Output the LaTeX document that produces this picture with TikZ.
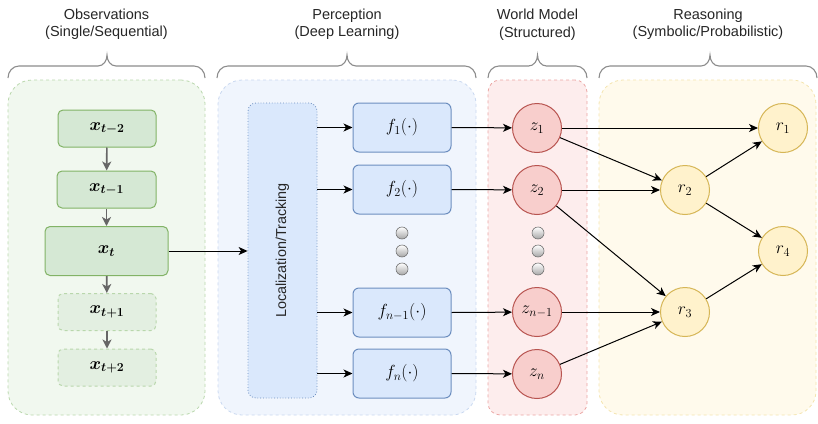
\RequirePackage{fix-cm}
\documentclass[tikz,border=0pt]{standalone}
\usepackage{amsmath,bm}
\usepackage[no-math]{fontspec}
\setmainfont{Liberation Sans}
\usetikzlibrary{arrows.meta,calc}

\definecolor{grnfill}{HTML}{D5E8D4}
\definecolor{grnline}{HTML}{82B366}
\definecolor{grnpanel}{HTML}{F1F8EF}
\definecolor{grnlight}{HTML}{E3EFE1}
\definecolor{grnlightline}{HTML}{B9D7AC}
\definecolor{blufill}{HTML}{DAE8FC}
\definecolor{bluline}{HTML}{6C8EBF}
\definecolor{blupanel}{HTML}{F0F5FD}
\definecolor{blupanelline}{HTML}{C9D8F0}
\definecolor{redfill}{HTML}{F8CECC}
\definecolor{redline}{HTML}{B85450}
\definecolor{redpanel}{HTML}{FDEDED}
\definecolor{redpanelline}{HTML}{EBA5A3}
\definecolor{yelfill}{HTML}{FFF2CC}
\definecolor{yelline}{HTML}{D6B656}
\definecolor{yelpanel}{HTML}{FFFAEC}
\definecolor{yelpanelline}{HTML}{F4E4AE}
\definecolor{bracegray}{HTML}{8C8C8C}
\definecolor{arrgray}{HTML}{666666}

\tikzset{
  panel/.style={draw, dashed, line width=0.8pt, rounded corners=24pt,
    inner sep=0pt, outer sep=0pt},
  mathfont/.style={font=\fontsize{17.5}{20}\selectfont},
  obsbox/.style={draw=grnline, fill=grnfill, line width=1pt, rounded corners=5pt,
    minimum width=98pt, minimum height=37pt, inner sep=0pt, mathfont},
  futbox/.style={obsbox, draw=grnlightline, fill=grnlight, dashed},
  fbox/.style={draw=bluline, fill=blufill, line width=1pt, rounded corners=6pt,
    minimum width=98pt, minimum height=49pt, inner sep=0pt, mathfont},
  zcirc/.style={circle, draw=redline, fill=redfill, line width=1pt,
    minimum size=49pt, inner sep=0pt, mathfont},
  rcirc/.style={circle, draw=yelline, fill=yelfill, line width=1pt,
    minimum size=49pt, inner sep=0pt, mathfont},
  dotball/.style={circle, draw=black!55, line width=0.6pt, top color=white,
    bottom color=black!35, minimum size=12pt, inner sep=0pt},
  arr/.style={draw=black, line width=1pt, -{Stealth[length=9pt,width=8pt,inset=2.5pt]}},
  garr/.style={draw=arrgray, line width=1.6pt, -{Stealth[length=9pt,width=9pt,inset=2.5pt]}},
  bracel/.style={draw=bracegray, line width=1.1pt},
  title/.style={align=center, font=\fontsize{14.5}{17.5}\selectfont, text=black!85}
}

\newcommand{\topbrace}[3]{%
  \draw[bracel] (#1,78) to[out=90,in=180] (#1+11,66) -- (#3-9,66)
    to[out=0,in=270] (#3,55) to[out=270,in=180] (#3+9,66) -- (#2-11,66)
    to[out=0,in=90] (#2,78);}

\begin{document}
\begin{tikzpicture}[x=1pt,y=-1pt]
\useasboundingbox (0,0) rectangle (818,423);

% column panels
\node[panel, draw=grnlightline, fill=grnpanel, minimum width=197pt, minimum height=335pt]
  (obspanel) at (106.5,247.5) {};
\node[panel, draw=blupanelline, fill=blupanel, minimum width=258pt, minimum height=335pt]
  (perpanel) at (347,247.5) {};
\node[panel, draw=redpanelline, fill=redpanel, minimum width=99pt, minimum height=335pt,
  rounded corners=12pt] (wmpanel) at (537.5,247.5) {};
\node[panel, draw=yelpanelline, fill=yelpanel, minimum width=217pt, minimum height=335pt]
  (rspanel) at (707.5,247.5) {};

% column titles and braces
\node[title] (t1) at (106.5,24.5) {Observations\\(Single/Sequential)};
\node[title] (t2) at (347,24.5) {Perception\\(Deep Learning)};
\node[title] (t3) at (537.5,24.5) {World Model\\(Structured)};
\node[title] (t4) at (708,24.5) {Reasoning\\(Symbolic/Probabilistic)};
\topbrace{8}{205}{107}
\topbrace{217}{476}{347}
\topbrace{488}{587}{537.5}
\topbrace{599}{817}{710}

% observations
\node[obsbox] (xa) at (107,128.5) {$\bm{x_{t-2}}$};
\node[obsbox, minimum width=99pt] (xb) at (106.5,189.5) {$\bm{x_{t-1}}$};
\node[obsbox, minimum width=123pt, minimum height=49pt] (xt) at (106.5,251) {$\bm{x_{t}}$};
\node[futbox] (xc) at (107,312) {$\bm{x_{t+1}}$};
\node[futbox] (xd) at (107,367.5) {$\bm{x_{t+2}}$};
\draw[garr] (xa) -- (xb);
\draw[garr] (xb) -- (xt);
\draw[garr] (xt) -- (xc);
\draw[garr] (xc) -- (xd);

% perception
\node[draw=bluline, dotted, fill=blufill, line width=0.8pt, rounded corners=8pt,
  minimum width=69pt, minimum height=295pt, inner sep=0pt] (loc) at (282.5,250.5) {};
\node[rotate=90, font=\fontsize{14.4}{16}\selectfont, text=black!85] (loctext) at (loc.center)
  {Localization/Tracking};
\node[fbox] (f1) at (402,127.5) {$f_1(\cdot)$};
\node[fbox] (f2) at (402,189.5) {$f_2(\cdot)$};
\node[fbox] (fm) at (402,312.5) {$f_{n-1}(\cdot)$};
\node[fbox] (fn) at (402,373.5) {$f_n(\cdot)$};
\node[dotball] (pd1) at (402,233) {};
\node[dotball] (pd2) at (402,251) {};
\node[dotball] (pd3) at (402,269) {};
\draw[arr] (xt.east) -- (loc.west |- xt.east);
\draw[arr] (loc.east |- f1.west) -- (f1.west);
\draw[arr] (loc.east |- f2.west) -- (f2.west);
\draw[arr] (loc.east |- fm.west) -- (fm.west);
\draw[arr] (loc.east |- fn.west) -- (fn.west);

% world model
\node[zcirc] (z1) at (537,128) {$z_1$};
\node[zcirc] (z2) at (537,190) {$z_2$};
\node[zcirc] (zm) at (537,312) {$z_{n-1}$};
\node[zcirc] (zn) at (537,374) {$z_n$};
\node[dotball] (wd1) at (538,233) {};
\node[dotball] (wd2) at (538,251) {};
\node[dotball] (wd3) at (538,269) {};
\draw[arr] (f1.east) -- (z1);
\draw[arr] (f2.east) -- (z2);
\draw[arr] (fm.east) -- (zm);
\draw[arr] (fn.east) -- (zn);

% reasoning
\node[rcirc] (r1) at (783,128) {$r_1$};
\node[rcirc] (r2) at (685,190) {$r_2$};
\node[rcirc] (r3) at (685,312) {$r_3$};
\node[rcirc] (r4) at (783,251) {$r_4$};
\draw[arr] (z1) -- (r1);
\draw[arr] (z1) -- (r2);
\draw[arr] (z2) -- (r2);
\draw[arr] (z2) -- (r3);
\draw[arr] (zm) -- (r3);
\draw[arr] (zn) -- (r3);
\draw[arr] (r2) -- (r1);
\draw[arr] (r2) -- (r4);
\draw[arr] (r3) -- (r4);
\end{tikzpicture}
\end{document}
